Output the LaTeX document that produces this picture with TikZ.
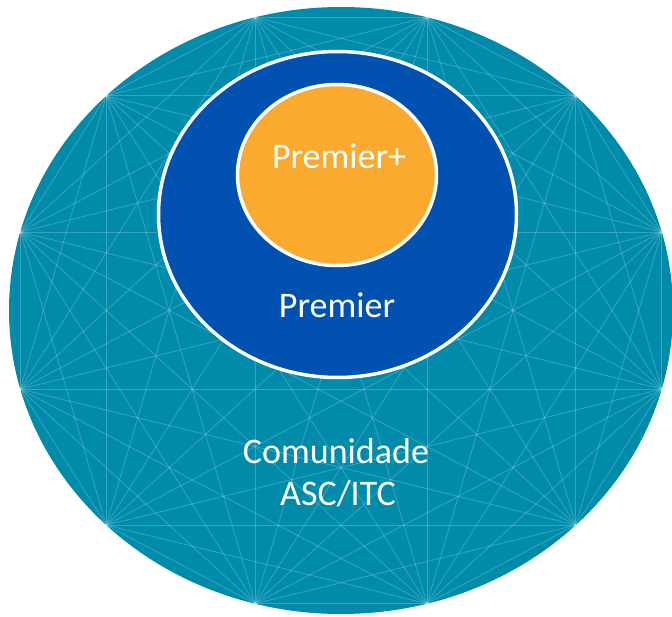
\documentclass[tikz,border=0pt]{standalone}
\usepackage{fontspec}
\setmainfont{Carlito}
\usepackage{tikz}
\usepackage{xcolor}
\definecolor{commteal}{RGB}{0,139,170}
\definecolor{premierblue}{RGB}{0,81,176}
\definecolor{premierorange}{RGB}{249,170,47}

\begin{document}
\begin{tikzpicture}[
  x=1pt, y=-1pt,
  web/.style={white, opacity=0.22, line width=0.8pt},
  ring/.style={draw=white, line width=3.5pt},
  every node/.style={text=white, anchor=base, inner sep=0pt, font=\fontsize{36}{42}\selectfont}
]
\useasboundingbox (0,0) rectangle (672,616);
\clip (0,0) rectangle (672,616);

% outer community
\fill[commteal] (341,310.5) ellipse [x radius=332, y radius=303.5];
\foreach \i in {0,...,11}
  \coordinate (p\i) at ({341+332*cos(15+30*\i)},{310.5+303.5*sin(15+30*\i)});
\foreach \i in {0,...,10}{
  \pgfmathtruncatemacro\nexti{\i+1}
  \foreach \j in {\nexti,...,11}
    \draw[web] (p\i) -- (p\j);
}

% premier and premier+
\fill[premierblue, ring] (337.5,214.5) ellipse [x radius=179, y radius=163];
\fill[premierorange, ring] (337,175) ellipse [x radius=99.5, y radius=90.5];

\node (premierplus) at (339,168) {Premier+};
\node (premier) at (337,317) {Premier};
\node (comunidade) at (336,463) {Comunidade};
\node (ascitc) at (338,505) {ASC/ITC};

\end{tikzpicture}
\end{document}
